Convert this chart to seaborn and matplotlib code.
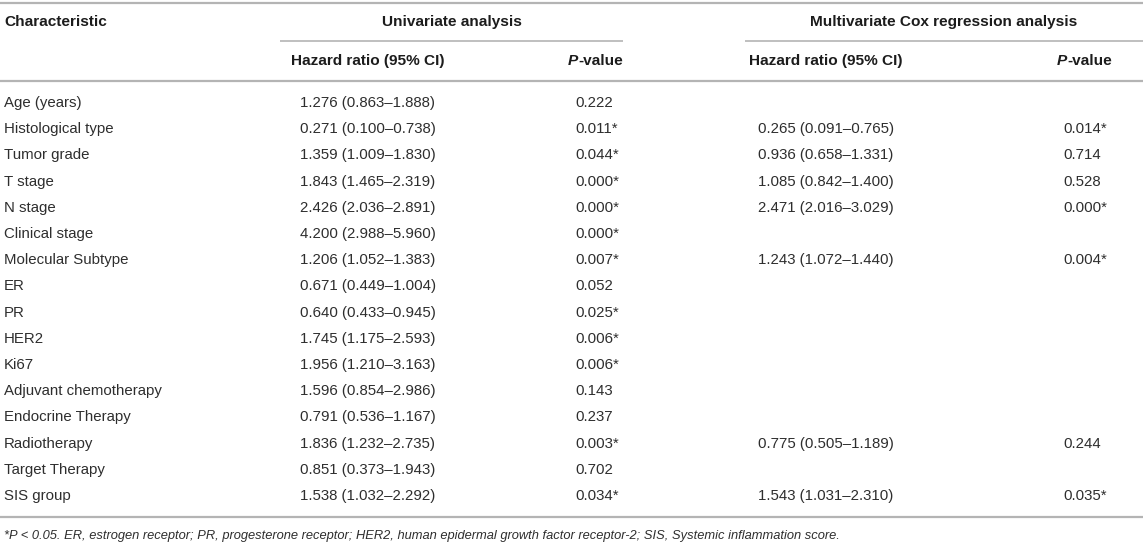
import matplotlib
matplotlib.use("Agg")
import matplotlib.pyplot as plt
import seaborn as sns

sns.set_theme(style="white")
plt.rcParams['font.family'] = ['Liberation Sans', 'DejaVu Sans']

# ---------------- data ----------------
characteristics = ["Age (years)", "Histological type", "Tumor grade", "T stage", "N stage",
                   "Clinical stage", "Molecular Subtype", "ER", "PR", "HER2", "Ki67",
                   "Adjuvant chemotherapy", "Endocrine Therapy", "Radiotherapy",
                   "Target Therapy", "SIS group"]
uni_hr = [1.276, 0.271, 1.359, 1.843, 2.426, 4.200, 1.206, 0.671, 0.640, 1.745, 1.956,
          1.596, 0.791, 1.836, 0.851, 1.538]
uni_lo = [0.863, 0.100, 1.009, 1.465, 2.036, 2.988, 1.052, 0.449, 0.433, 1.175, 1.210,
          0.854, 0.536, 1.232, 0.373, 1.032]
uni_hi = [1.888, 0.738, 1.830, 2.319, 2.891, 5.960, 1.383, 1.004, 0.945, 2.593, 3.163,
          2.986, 1.167, 2.735, 1.943, 2.292]
uni_p = [0.222, 0.011, 0.044, 0.000, 0.000, 0.000, 0.007, 0.052, 0.025, 0.006, 0.006,
         0.143, 0.237, 0.003, 0.702, 0.034]
multi_hr = [None, 0.265, 0.936, 1.085, 2.471, None, 1.243, None, None, None, None,
            None, None, 0.775, None, 1.543]
multi_lo = [None, 0.091, 0.658, 0.842, 2.016, None, 1.072, None, None, None, None,
            None, None, 0.505, None, 1.031]
multi_hi = [None, 0.765, 1.331, 1.400, 3.029, None, 1.440, None, None, None, None,
            None, None, 1.189, None, 2.310]
multi_p = [None, 0.014, 0.714, 0.528, 0.000, None, 0.004, None, None, None, None,
           None, None, 0.244, None, 0.035]

header_char = "Characteristic"
header_uni = "Univariate analysis"
header_multi = "Multivariate Cox regression analysis"
header_hr = "Hazard ratio (95% CI)"
footnote = ("*P < 0.05. ER, estrogen receptor; PR, progesterone receptor; HER2, human "
            "epidermal growth factor receptor-2; SIS, Systemic inflammation score.")
sig_level = 0.05


def fmt_hr(h, lo, hi):
    return f"{h:.3f} ({lo:.3f}\u2013{hi:.3f})"


def fmt_p(p):
    return f"{p:.3f}" + ("*" if p < sig_level else "")


# ---------------- layout ----------------
W, H = 1143, 548
fig = plt.figure(figsize=(W / 100, H / 100), dpi=100)
ax = fig.add_axes([0, 0, 1, 1])
ax.set_xlim(0, W)
ax.set_ylim(H, 0)
ax.axis("off")

FS = 10.8
FSH = 11.1
TXT = "#2e2e2e"
HDR = "#1c1c1c"
LINE = "#b4b4b4"

x_char = 4
x_uni_hr = 368
x_uni_p = 575
x_uni_p_hdr = 623
x_multi_hr = 826
x_multi_p = 1063
x_multi_p_hdr = 1112

y_top = 3
y_h1 = 22
y_sub = 41
y_h2 = 61
y_hline = 81
y_row0 = 103
dy = 26.2
y_bottom = 517
y_foot = 536

# lines
ax.hlines([y_top, y_hline, y_bottom], 0, W, colors=LINE, lw=1.6)
ax.hlines(y_sub, 280, 623, colors=LINE, lw=1.2)
ax.hlines(y_sub, 745, W, colors=LINE, lw=1.2)

# headers
ax.text(x_char, y_h1, header_char, fontsize=FSH, fontweight="bold", color=HDR, va="center", ha="left")
ax.text((280 + 623) / 2, y_h1, header_uni, fontsize=FSH, fontweight="bold", color=HDR, va="center", ha="center")
ax.text((745 + W) / 2, y_h1, header_multi, fontsize=FSH, fontweight="bold", color=HDR, va="center", ha="center")
ax.text(x_uni_hr, y_h2, header_hr, fontsize=FSH, fontweight="bold", color=HDR, va="center", ha="center")
ax.text(x_multi_hr, y_h2, header_hr, fontsize=FSH, fontweight="bold", color=HDR, va="center", ha="center")

renderer = fig.canvas.get_renderer()
for xr in (x_uni_p_hdr, x_multi_p_hdr):
    t = ax.text(xr, y_h2, "-value", fontsize=FSH, fontweight="bold", color=HDR, va="center", ha="right")
    bb = t.get_window_extent(renderer=renderer)
    ax.text(bb.x0, y_h2, "P", fontsize=FSH, fontweight="bold", fontstyle="italic", color=HDR,
            va="center", ha="right")

# body rows
for i, name in enumerate(characteristics):
    y = y_row0 + i * dy
    ax.text(x_char, y, name, fontsize=FS, color=TXT, va="center", ha="left")
    ax.text(x_uni_hr, y, fmt_hr(uni_hr[i], uni_lo[i], uni_hi[i]), fontsize=FS, color=TXT,
            va="center", ha="center")
    ax.text(x_uni_p, y, fmt_p(uni_p[i]), fontsize=FS, color=TXT, va="center", ha="left")
    if multi_hr[i] is not None:
        ax.text(x_multi_hr, y, fmt_hr(multi_hr[i], multi_lo[i], multi_hi[i]), fontsize=FS,
                color=TXT, va="center", ha="center")
        ax.text(x_multi_p, y, fmt_p(multi_p[i]), fontsize=FS, color=TXT, va="center", ha="left")

ax.text(x_char, y_foot, footnote, fontsize=9.3, fontstyle="italic", color=TXT, va="center", ha="left")

fig.savefig("out.png", dpi=100)
